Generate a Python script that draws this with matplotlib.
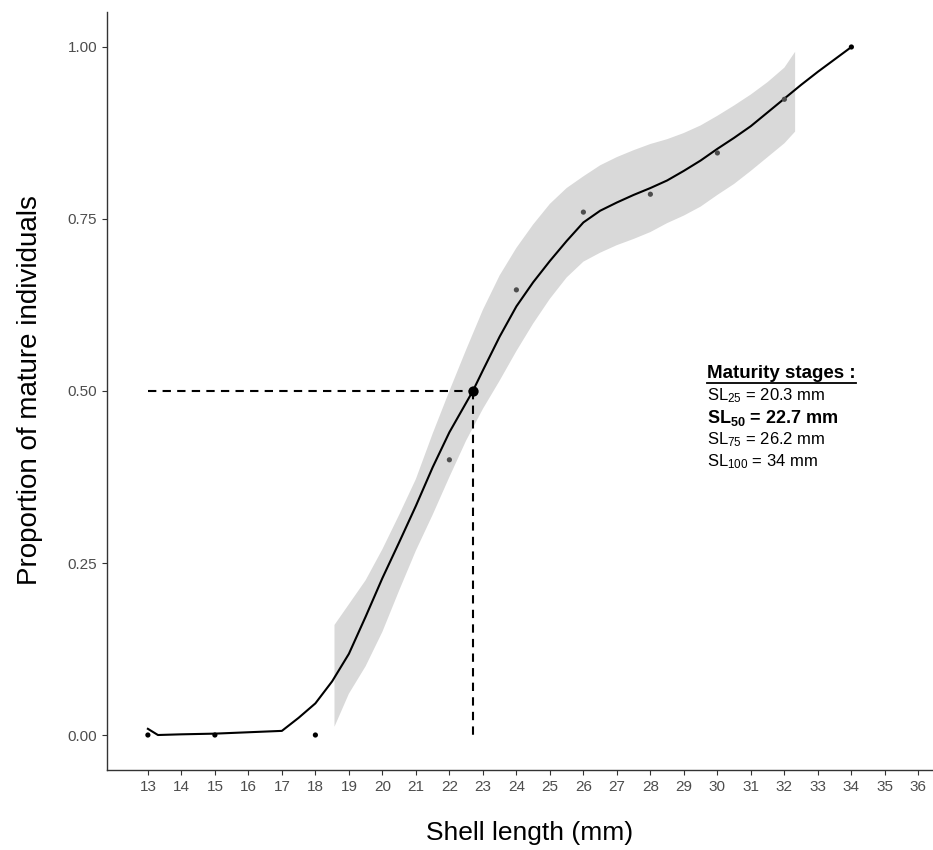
import matplotlib
matplotlib.use('Agg')
from matplotlib import pyplot as plt
from matplotlib.lines import Line2D

plt.rcParams['font.family'] = ['Liberation Sans', 'DejaVu Sans']
plt.rcParams['mathtext.default'] = 'regular'

# Observed proportions of mature individuals
obs_x = [13, 15, 18, 22, 24, 26, 28, 30, 32, 34]
obs_y = [0.0, 0.0, 0.0, 0.40, 0.647, 0.760, 0.786, 0.846, 0.924, 1.0]
obs_colors = ['black', 'black', 'black', '#4d4d4d', '#4d4d4d', '#4d4d4d',
              '#4d4d4d', '#4d4d4d', '#4d4d4d', 'black']

# Fitted curve
fit_x = [13.0, 13.3, 14, 15, 16, 17.0, 17.5, 18.0, 18.5, 19.0, 19.5, 20.0,
         20.5, 21.0, 21.5, 22.0, 22.7, 23.0, 23.5, 24.0, 24.5, 25.0, 25.5,
         26.0, 26.5, 27.0, 27.5, 28.0, 28.5, 29.0, 29.5, 30.0, 30.5, 31.0,
         31.5, 32.0, 32.5, 33.0, 33.5, 34.0]
fit_y = [0.009, 0.0, 0.001, 0.002, 0.004, 0.006, 0.025, 0.046, 0.078, 0.118,
         0.172, 0.228, 0.28, 0.333, 0.389, 0.44, 0.5, 0.53, 0.579, 0.623,
         0.658, 0.689, 0.718, 0.745, 0.762, 0.774, 0.785, 0.795, 0.806,
         0.82, 0.835, 0.852, 0.868, 0.885, 0.905, 0.925, 0.945, 0.964,
         0.982, 1.0]

# Confidence band
band_x = [18.57, 19.0, 19.5, 20.0, 20.5, 21.0, 21.5, 22.0, 22.5, 23.0, 23.5,
          24.0, 24.5, 25.0, 25.5, 26.0, 26.5, 27.0, 27.5, 28.0, 28.5, 29.0,
          29.5, 30.0, 30.5, 31.0, 31.5, 32.0, 32.32]
band_hi = [0.16, 0.19, 0.225, 0.27, 0.32, 0.372, 0.438, 0.50, 0.56, 0.618, 0.668,
           0.708, 0.742, 0.772, 0.795, 0.812, 0.828, 0.84, 0.85, 0.859, 0.866,
           0.875, 0.886, 0.90, 0.915, 0.931, 0.949, 0.97, 0.993]
band_lo = [0.012, 0.06, 0.10, 0.15, 0.21, 0.268, 0.32, 0.375, 0.428, 0.474,
           0.515, 0.558, 0.598, 0.634, 0.665, 0.688, 0.701, 0.712, 0.721, 0.731,
           0.744, 0.755, 0.768, 0.785, 0.801, 0.82, 0.84, 0.86, 0.877]

sl50 = 22.7
x_ticks = list(range(13, 37))
y_ticks = [0.0, 0.25, 0.5, 0.75, 1.0]
stage_lines = [r'SL$_{25}$ = 20.3 mm', r'SL$_{50}$ = 22.7 mm',
               r'SL$_{75}$ = 26.2 mm', r'SL$_{100}$ = 34 mm']

fig = plt.figure(figsize=(9.33, 8.5), dpi=100)
ax = fig.add_axes([0.1147, 0.094, 0.884, 0.892])

ax.fill_between(band_x, band_lo, band_hi, facecolor='#d9d9d9', edgecolor='none', zorder=1)
ax.plot(fit_x, fit_y, color='black', linewidth=1.5, zorder=3)
ax.scatter(obs_x, obs_y, c=obs_colors, s=14, zorder=4, linewidths=0)

# SL50 guides
ax.plot([13, sl50], [0.5, 0.5], color='black', linestyle=(0, (4, 3)), linewidth=1.5, zorder=2)
ax.plot([sl50, sl50], [0.5, 0.0], color='black', linestyle=(0, (4, 3)), linewidth=1.5, zorder=2)
ax.scatter([sl50], [0.5], color='black', s=55, zorder=5, linewidths=0)

ax.set_xlim(11.78, 36.4)
ax.set_ylim(-0.051, 1.051)
ax.set_xticks(x_ticks)
ax.set_yticks(y_ticks)
ax.set_yticklabels([f'{v:.2f}' for v in y_ticks])
ax.tick_params(axis='both', colors='#333333', labelcolor='#4d4d4d', labelsize=11, length=3.5)

for side in ['top', 'right']:
    ax.spines[side].set_visible(False)
for side in ['left', 'bottom']:
    ax.spines[side].set_color('#333333')
    ax.spines[side].set_linewidth(1.0)

fig.text(0.568, 0.02, 'Shell length (mm)', fontsize=19, ha='center', va='center')
fig.text(0.032, 0.541, 'Proportion of mature individuals', fontsize=20,
         ha='center', va='center', rotation=90)

# Maturity stages annotation
x0 = 29.7
title = ax.text(x0, 0.525, 'Maturity stages :', fontsize=13.5, fontweight='bold', va='center', ha='left')
ys = [0.493, 0.461, 0.429, 0.398]
for i, (txt, yy) in enumerate(zip(stage_lines, ys)):
    ax.text(x0, yy, txt, fontsize=13 if i == 1 else 12, va='center', ha='left',
            fontweight='bold' if i == 1 else 'normal')

fig.canvas.draw()
bb = title.get_window_extent(renderer=fig.canvas.get_renderer())
inv = fig.transFigure.inverted()
(fx0, fy0) = inv.transform((bb.x0, bb.y0 - 1))
(fx1, _) = inv.transform((bb.x1, bb.y0 - 1))
fig.add_artist(Line2D([fx0, fx1], [fy0, fy0], color='black', linewidth=1.3, transform=fig.transFigure))

fig.savefig('out.png', dpi=100)
